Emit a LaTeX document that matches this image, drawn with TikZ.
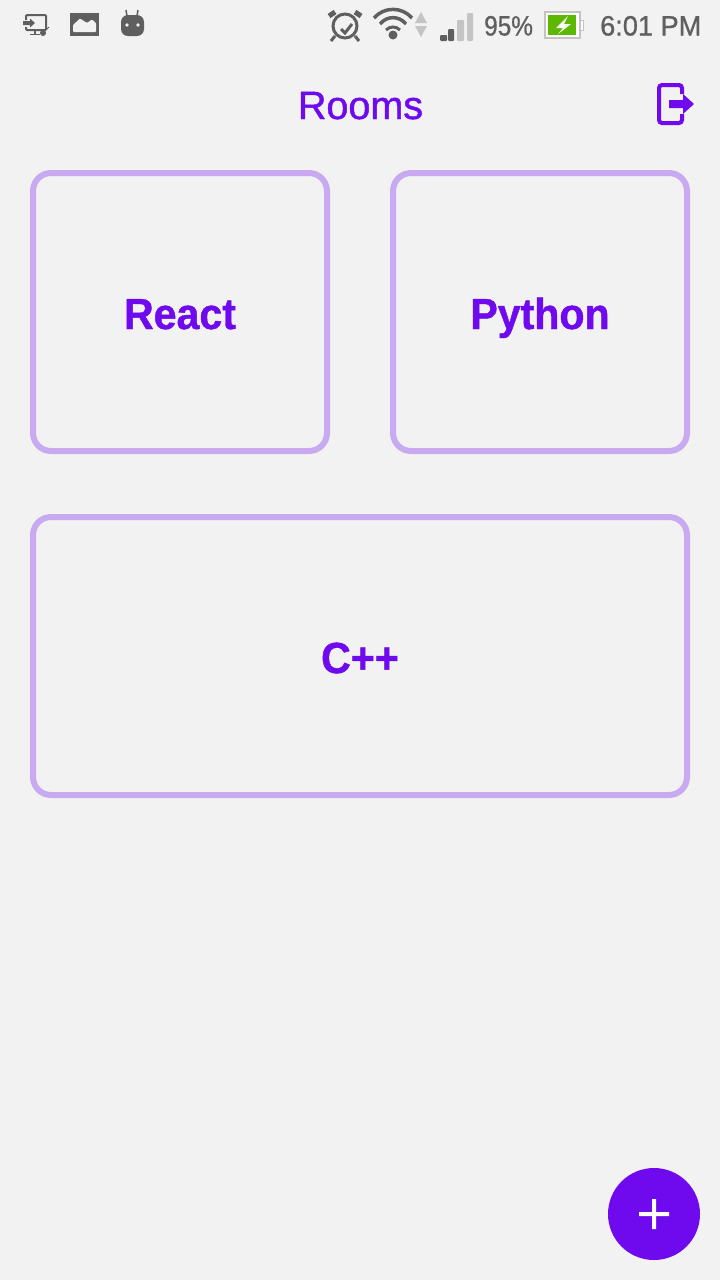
\documentclass[tikz,border=0pt]{standalone}
\usepackage{fontspec}
\setmainfont{Liberation Sans}
\newfontfamily\titlefont[FakeBold=1.2]{Liberation Sans}
\newfontfamily\roomfont[FakeBold=1,FakeStretch=0.945]{Liberation Sans Bold}
\newfontfamily\clockfont[FakeBold=0.8,FakeStretch=0.97]{Liberation Sans}
\newfontfamily\levelfont[FakeBold=0.8,FakeStretch=0.87]{Liberation Sans}
\definecolor{bgcol}{HTML}{F2F2F2}
\definecolor{purplecol}{HTML}{6F0AEE}
\definecolor{bordercol}{HTML}{C9A9F0}
\definecolor{statuscol}{HTML}{5F5F5F}
\definecolor{dimcol}{HTML}{C4C4C4}
\definecolor{battcol}{HTML}{5CB800}
\tikzset{
	roombox/.style={draw=bordercol, line width=6pt, rounded corners=18pt, minimum height=278pt, text=purplecol, font=\fontsize{43.5}{48}\roomfont, inner sep=0pt, text height=34pt, text depth=0pt},
	statustext/.style={text=statuscol, inner sep=0pt, text height=20pt, text depth=0pt},
	statusline/.style={draw=statuscol, line width=2.5pt}
}
\begin{document}
\begin{tikzpicture}[x=1pt, y=-1pt]

	\fill [bgcol] (0,0) rectangle (720,1280);
	\useasboundingbox (0,0) rectangle (720,1280);

	% status bar left
	\draw [statuscol, line width=2pt, rounded corners=1pt] (26,20) -- (26,15) -- (46,15) -- (46,30) -- (26,30) -- (26,27);
	\fill [statuscol] (23,21) rectangle (30,25) (30,18.5) -- (35,23) -- (30,27.5) -- cycle;
	\draw [statusline, line width=1.5pt] (35,31) -- (35,34) (30,34.5) -- (40,34.5);
	\fill [statuscol] (43,33) circle (3pt);
	\draw [statuscol, line width=1pt] (44,32) -- (49,27);
	\fill [statuscol] (70,13) rectangle (99,36);
	\fill [bgcol, rounded corners=1pt] (73,32) -- (73,25) -- (80,18.5) -- (87,23) -- (92,19.5) -- (96,23) -- (96,32) -- cycle;
	\fill [statuscol, rounded corners=7pt] (121,15) rectangle (144,36);
	\draw [statuscol, line width=1.5pt] (127,16) -- (126,10) (137,16) -- (138,10);
	\fill [bgcol] (127,25) circle (1.8pt) (138,25) circle (1.8pt);

	% status bar right
	\draw [statusline, line width=3pt] (345,26) circle (12pt);
	\draw [statusline, line width=3pt] (341,29) -- (345,33) -- (352,24);
	\draw [statusline, line width=5pt] (329,16) -- (335,12) (355,12) -- (361,16);
	\draw [statusline, line width=3pt] (335,36) -- (331,41) (355,36) -- (359,41);
	\draw [statusline, line width=3.5pt] (374,18) .. controls (384,6.5) and (402,6.5) .. (412,18);
	\draw [statusline, line width=3.5pt] (380,24) .. controls (387,15.5) and (399,15.5) .. (406,24);
	\draw [statusline, line width=3pt] (386,30) .. controls (390,26) and (396,26) .. (400,30);
	\fill [statuscol] (393,35) circle (4.5pt);
	\fill [dimcol] (415,23) -- (421,12) -- (427,23) -- cycle (415,26) -- (427,26) -- (421,37) -- cycle;
	\fill [statuscol, rounded corners=1pt] (440,35) rectangle (447,41) (448,29) rectangle (454,41);
	\fill [dimcol, rounded corners=1pt] (457,20) rectangle (464,41) (467,13) rectangle (473,41);
	\node [statustext, anchor=west, font=\fontsize{28}{34}\levelfont] (battery level) at (484,25.5) {95\%};
	\draw [dimcol, line width=1.5pt, fill=white] (545,12) rectangle (580,38);
	\draw [dimcol, line width=1pt, fill=white] (580,20) rectangle (583,30);
	\fill [battcol] (548,15) rectangle (576,35);
	\fill [white] (568,16) -- (556,28) -- (563,28) -- (558,34) -- (571,24) -- (564,24) -- cycle;
	\node [statustext, anchor=west, font=\fontsize{28}{34}\clockfont] (clock) at (600,25.5) {6:01 PM};

	% header
	\node [text=purplecol, font=\fontsize{39.5}{44}\titlefont, inner sep=0pt, text height=28pt, text depth=0pt] (title) at (360.5,105) {Rooms};
	\draw [purplecol, line width=4pt, rounded corners=3pt] (682,94) -- (682,85) -- (659,85) -- (659,123) -- (682,123) -- (682,114);
	\fill [purplecol] (669,100) rectangle (683,108) (683,94) -- (694,104) -- (683,114) -- cycle;

	% rooms
	\node [roombox, minimum width=294pt] (react) at (180,312) {React};
	\node [roombox, minimum width=294pt] (python) at (540,312) {Python};
	\node [roombox, minimum width=654pt] (cpp) at (360,656) {C++};

	% add button
	\node [circle, fill=purplecol, minimum size=92pt, inner sep=0pt] (add) at (654,1214) {};
	\fill [white] (639,1212.2) rectangle (669,1216.2) (652,1199) rectangle (656,1229);

\end{tikzpicture}
\end{document}
